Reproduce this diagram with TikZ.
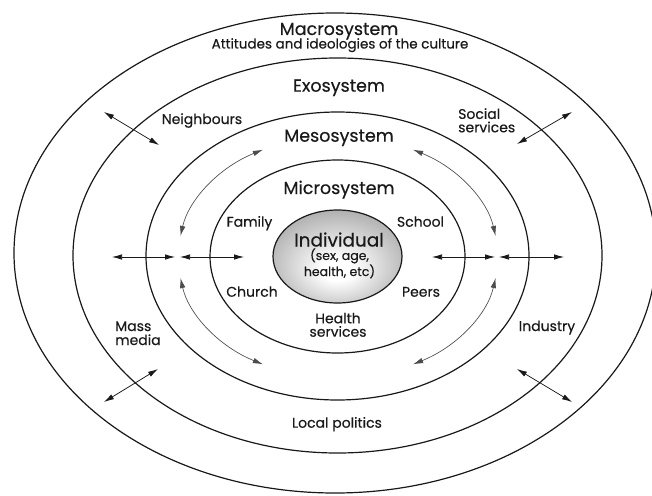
\documentclass[tikz,border=0pt]{standalone}
\usepackage{fontspec}
\setmainfont{Poppins}[FakeBold=0.35]
\usetikzlibrary{arrows.meta,calc}
\pgfdeclareradialshading{indivshade}{\pgfpoint{0bp}{-8bp}}{color(0bp)=(white); color(6bp)=(white); color(30bp)=(black!33); color(50bp)=(black!62)}
\begin{document}
\begin{tikzpicture}[x=1pt,y=-1pt,
  ring/.style={draw=black!90, line width=1.2pt},
  tipd/.style={{Latex[length=10pt,width=5.5pt]}-{Latex[length=10pt,width=5.5pt]}},
  dbl/.style={tipd, draw=black!90, line width=0.75pt},
  curv/.style={tipd, draw=black!70, line width=0.65pt},
  head/.style={font=\fontsize{17.5}{20}\selectfont, anchor=base, text=black!90, inner sep=0pt},
  lab/.style={font=\fontsize{14}{13.4}\selectfont, anchor=base, text=black!90, inner sep=0pt, align=center},
  labl/.style={lab, anchor=base west, align=left}]
\useasboundingbox (0,0) rectangle (652,495);
\fill[white] (0,0) rectangle (652,495);
% rings
\draw[ring] (335,253) ellipse [x radius=321, y radius=240];
\draw[ring] (337.5,255.5) ellipse [x radius=264.5, y radius=197.5];
\draw[ring] (337.5,256) ellipse [x radius=191.5, y radius=144];
\draw[ring] (337.5,256.5) ellipse [x radius=127.5, y radius=96.5];
\shade[shading=indivshade, draw=black!90, line width=1.2pt] (337.5,256.5) ellipse [x radius=64.5, y radius=46.5];
% texts
\node[head] (macro) at (339,35) {Macrosystem};
\node[lab, font=\fontsize{13.5}{15}\selectfont] (att) at (340,48.5) {Attitudes and ideologies of the culture};
\node[head] (exo) at (339,91.7) {Exosystem};
\node[head] (meso) at (339,141.7) {Mesosystem};
\node[head] (micro) at (339,194) {Microsystem};
\node[head, font=\fontsize{18.5}{20}\selectfont] (indiv) at (339,246.5) {Individual};
\node[lab, font=\fontsize{12.5}{14.5}\selectfont] (indivsub) at (339.5,276) {(sex, age,\\health, etc)};
\node[lab] (family) at (249.5,226.7) {Family};
\node[lab] (school) at (420.5,226.7) {School};
\node[lab] (church) at (252,296.7) {Church};
\node[lab] (peers) at (421,296.7) {Peers};
\node[lab] (health) at (338,336.7) {Health\\services};
\node[lab] (local) at (337,427.7) {Local politics};
\node[lab] (neigh) at (202,124) {Neighbours};
\node[labl] (social) at (458,132.3) {Social\\services};
\node[labl, font=\fontsize{14}{14}\selectfont] (mass) at (115,345) {Mass\\media};
\node[lab] (industry) at (547,331) {Industry};
% straight arrows
\coordinate (hl1) at (112,257); \coordinate (hl2) at (175,257);
\coordinate (hl3) at (180,257); \coordinate (hl4) at (244,257);
\coordinate (hr1) at (432,257); \coordinate (hr2) at (495,257);
\coordinate (hr3) at (499,257); \coordinate (hr4) at (564,257);
\draw[dbl] (hl1) -- (hl2);
\draw[dbl] (hl3) -- (hl4);
\draw[dbl] (hr1) -- (hr2);
\draw[dbl] (hr3) -- (hr4);
\coordinate (d1a) at (104,112); \coordinate (d1b) at (159,145);
\coordinate (d2a) at (572,112); \coordinate (d2b) at (517,144);
\coordinate (d3a) at (158,369); \coordinate (d3b) at (104,402);
\coordinate (d4a) at (517,369); \coordinate (d4b) at (572,402);
\draw[dbl] (d1a) -- (d1b);
\draw[dbl] (d2a) -- (d2b);
\draw[dbl] (d3a) -- (d3b);
\draw[dbl] (d4a) -- (d4b);
% curved arrows
\coordinate (cc) at (338,257);
\coordinate (a1) at ($(cc)+(118:160pt and 121.5pt)$);
\coordinate (a2) at ($(cc)+(10:160pt and 121.5pt)$);
\coordinate (a3) at ($(cc)+(190:160pt and 121.5pt)$);
\coordinate (a4) at ($(cc)+(298:160pt and 121.5pt)$);
\draw[curv] (a1) arc[start angle=118, end angle=170, x radius=160pt, y radius=121.5pt];
\draw[curv] (a2) arc[start angle=10, end angle=62, x radius=160pt, y radius=121.5pt];
\draw[curv] (a3) arc[start angle=190, end angle=242, x radius=160pt, y radius=121.5pt];
\draw[curv] (a4) arc[start angle=298, end angle=350, x radius=160pt, y radius=121.5pt];
\end{tikzpicture}
\end{document}
